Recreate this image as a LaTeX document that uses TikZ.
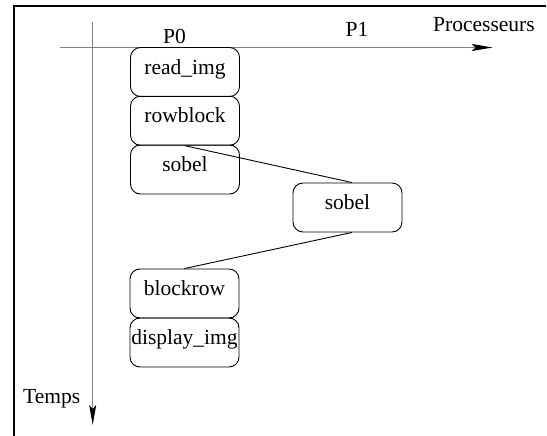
\documentclass[tikz,border=0pt]{standalone}
\usepackage{fontspec}
\setmainfont{Liberation Serif}
\usetikzlibrary{arrows.meta}
\begin{document}
\begin{tikzpicture}[x=1pt,y=-1pt,
  task/.style={draw=black, line width=0.9pt, rounded corners=10pt,
    minimum width=109pt, minimum height=49pt, inner sep=0pt,
    text height=0.7em, text depth=0.25em,
    font=\fontsize{21.5}{25}\selectfont},
  lbl/.style={anchor=base, inner sep=0pt, font=\fontsize{21.5}{25}\selectfont},
  axis/.style={draw=gray, line width=1.4pt},
  link/.style={draw=black, line width=0.9pt}]
\useasboundingbox (0,0) rectangle (547,436);
% frame (cropped)
\coordinate (fl) at (13.5,436);
\coordinate (fc) at (13.5,5.7);
\coordinate (fr) at (546,5.7);
\draw[line width=2pt] (fl) -- (fc) -- (fr);
% axes
\coordinate (vs) at (92.7,21.7);
\coordinate (ve) at (92.7,425);
\coordinate (hs) at (60,47.5);
\coordinate (he) at (492.7,47.5);
\draw[axis, -{Stealth[length=20pt,width=7pt,inset=4pt,fill=black,color=black]}] (vs) -- (ve);
\draw[axis, -{Stealth[length=21pt,width=7pt,inset=4pt,fill=black,color=black]}] (hs) -- (he);
% labels
\node[lbl] (p0) at (174.5,43.3) {P0};
\node[lbl] (p1) at (357,36.7) {P1};
\node[lbl] (proc) at (484,31.7) {Processeurs};
\node[lbl] (temps) at (51.7,403.5) {Temps};
% tasks
\node[task] (read) at (185,72) {read\_img};
\node[task] (rowblock) at (185,120.75) {rowblock};
\node[task] (sobel) at (185,169.5) {sobel};
\node[task] (sobeltwo) at (347.5,207.5) {sobel};
\node[task] (blockrow) at (184.5,293.5) {blockrow};
\node[task] (display) at (184.5,342.5) {display\_img};
% links
\draw[link] (rowblock.south) -- ([xshift=4.5pt]sobeltwo.north);
\draw[link] ([xshift=4.5pt]sobeltwo.south) -- (blockrow.north);
\end{tikzpicture}
\end{document}
